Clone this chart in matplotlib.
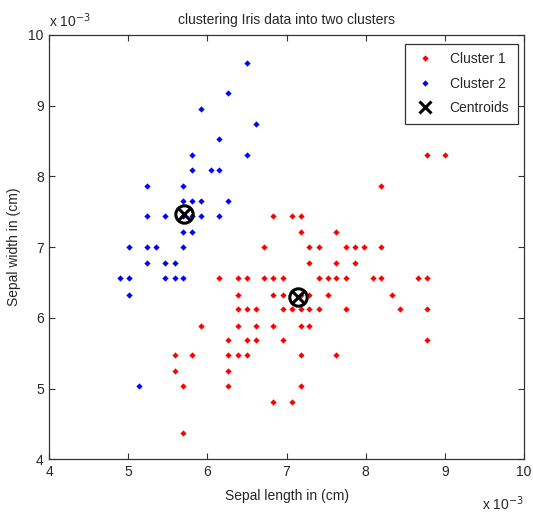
import matplotlib
matplotlib.use("Agg")
import matplotlib.pyplot as plt

plt.rcParams['font.family'] = ['Liberation Sans', 'DejaVu Sans']

# Cluster 1 (red) points, values shown in units of 1e-3
c1_x = [8.78, 9.00,
        8.20,
        6.83, 7.07, 7.18,
        7.18, 7.63,
        6.72, 7.29, 7.41, 7.75, 7.87, 7.98, 8.20,
        7.29, 7.63, 7.87,
        6.15, 6.38, 6.50, 6.72, 6.83, 6.95, 7.41, 7.52, 7.63, 7.75, 8.09, 8.20, 8.66, 8.78,
        6.38, 6.83, 6.95, 7.18, 7.29, 7.52, 8.33,
        6.38, 6.50, 6.61, 6.95, 7.07, 7.18, 7.29, 7.41, 7.75, 8.44, 8.78,
        5.92, 6.38, 6.61, 6.83, 7.18, 7.29,
        6.26, 6.50, 6.61, 6.95, 8.78,
        5.59, 5.81, 6.26, 6.38, 6.50, 7.18, 7.63,
        5.59, 6.26,
        5.69, 6.26, 7.18,
        6.83, 7.07,
        5.69]
c1_y = [8.30, 8.30,
        7.86,
        7.44, 7.44, 7.44,
        7.21, 7.21,
        7.00, 7.00, 7.00, 7.00, 7.00, 7.00, 7.00,
        6.77, 6.77, 6.77,
        6.56, 6.56, 6.56, 6.56, 6.56, 6.56, 6.56, 6.56, 6.56, 6.56, 6.56, 6.56, 6.56, 6.56,
        6.33, 6.33, 6.33, 6.33, 6.33, 6.33, 6.33,
        6.12, 6.12, 6.12, 6.12, 6.12, 6.12, 6.12, 6.12, 6.12, 6.12, 6.12,
        5.89, 5.89, 5.89, 5.89, 5.89, 5.89,
        5.68, 5.68, 5.68, 5.68, 5.68,
        5.48, 5.48, 5.48, 5.48, 5.48, 5.48, 5.48,
        5.25, 5.25,
        5.03, 5.03, 5.03,
        4.81, 4.81,
        4.37]

# Cluster 2 (blue) points
c2_x = [6.50,
        6.26,
        5.92,
        6.61,
        6.15,
        5.81, 6.50,
        5.81, 6.04, 6.15,
        5.24, 5.69,
        5.69, 5.81, 5.92, 6.26,
        5.24, 5.46, 5.69, 5.81, 5.92, 6.15,
        5.69, 5.81,
        5.01, 5.24, 5.35, 5.69,
        5.24, 5.46, 5.59,
        4.89, 5.01, 5.46, 5.59, 5.69,
        5.01,
        5.13]
c2_y = [9.61,
        9.18,
        8.96,
        8.74,
        8.53,
        8.30, 8.30,
        8.09, 8.09, 8.09,
        7.86, 7.86,
        7.65, 7.65, 7.65, 7.65,
        7.44, 7.44, 7.44, 7.44, 7.44, 7.44,
        7.21, 7.21,
        7.00, 7.00, 7.00, 7.00,
        6.77, 6.77, 6.77,
        6.56, 6.56, 6.56, 6.56, 6.56,
        6.33,
        5.03]

cent_x = [7.14, 5.70]
cent_y = [6.29, 7.47]

x_ticks = [4, 5, 6, 7, 8, 9, 10]
y_ticks = [4, 5, 6, 7, 8, 9, 10]

W, H = 533, 515
fig = plt.figure(figsize=(W / 100, H / 100), dpi=100)
ax = fig.add_axes([49.3 / W, 1 - 459.3 / H, (523.8 - 49.3) / W, (459.3 - 35) / H])

txt = '#262626'
ax.plot(c1_x, c1_y, 'D', color='red', ms=3.2, mew=0, label='Cluster 1')
ax.plot(c2_x, c2_y, 'D', color='blue', ms=3.2, mew=0, label='Cluster 2')
ax.plot(cent_x, cent_y, 'x', color='black', ms=9, mew=2.2, label='Centroids')
ax.plot(cent_x, cent_y, 'o', mfc='none', mec='black', ms=12.5, mew=2.2)

ax.set_xlim(4, 10)
ax.set_ylim(4, 10)
ax.set_xticks(x_ticks)
ax.set_yticks(y_ticks)
ax.tick_params(direction='in', length=4.3, width=0.8, colors='#333333',
               labelcolor=txt, labelsize=10, top=True, right=True, pad=4)
for s in ax.spines.values():
    s.set_color('#333333')
    s.set_linewidth(0.9)

ax.set_title('clustering Iris data into two clusters', fontsize=10, color=txt, pad=8)
ax.set_xlabel('Sepal length in (cm)', fontsize=10, color=txt, labelpad=7)
ax.set_ylabel('Sepal width in (cm)', fontsize=10, color=txt, labelpad=5)

fig.text(49 / W, 1 - 27 / H, r'x 10$^{-3}$', fontsize=10, color=txt, ha='left', va='baseline')
fig.text(524 / W, 1 - 510 / H, r'x 10$^{-3}$', fontsize=10, color=txt, ha='right', va='baseline')

leg = ax.legend(loc='upper right', bbox_to_anchor=(517.7 / W, 1 - 44 / H),
                bbox_transform=fig.transFigure, borderaxespad=0, fancybox=False,
                framealpha=1, edgecolor='#333333', fontsize=10, labelspacing=0.75,
                handlelength=1.6, handletextpad=1.0, borderpad=0.6)
leg.get_frame().set_linewidth(0.9)
for t in leg.get_texts():
    t.set_color(txt)

fig.savefig('out.png', dpi=100)
